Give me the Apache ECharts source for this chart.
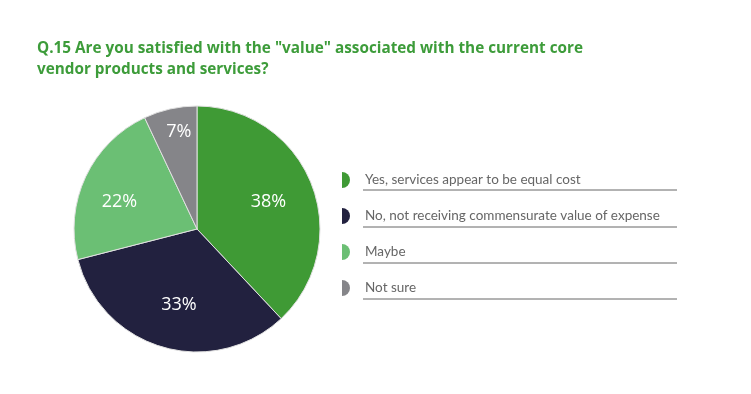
<!DOCTYPE html>
<html><head><meta charset="utf-8">
<script src="https://cdn.jsdelivr.net/npm/echarts@6/dist/echarts.min.js"></script>
<style>html,body{margin:0;padding:0;background:#fff}#c{width:751px;height:394px}</style>
</head><body><div id="c"></div>
<script>
const titleText = 'Q.15 Are you satisfied with the "value" associated with the current core\nvendor products and services?';
const categories = ['Yes, services appear to be equal cost','No, not receiving commensurate value of expense','Maybe','Not sure'];
const values = [38, 33, 22, 7];
const colors = ['#3f9a35', '#22213f', '#6bbf74', '#858589'];

const chart = echarts.init(document.getElementById('c'));
const half = 'path://M0,0 A10,10 0 0,1 0,20 Z';
const lineYs = [190, 227, 263, 299];
const labelOffsets = [[-2, 2], [4, 0], [-6, 7], [-1, -20]];
chart.setOption({
  animation: false,
  title: {
    text: titleText, left: 32, top: 33,
    textStyle: {color: '#3d9c3a', fontFamily: 'Open Sans', fontWeight: 'bold', fontSize: 15.3, lineHeight: 21}
  },
  legend: {
    orient: 'vertical', left: 337, top: 167, itemWidth: 8, itemHeight: 16, itemGap: 20,
    icon: half,
    itemStyle: {borderWidth: 0},
    data: categories,
    textStyle: {color: '#666', fontFamily: 'Lato', fontSize: 13.5, padding: [0,0,0,10]}
  },
  graphic: lineYs.map(y => ({type: 'line', shape: {x1: 363, y1: y, x2: 677, y2: y}, style: {stroke: '#666', lineWidth: 1}})),
  series: [{
    type: 'pie', center: [197, 229], radius: [0, 123], startAngle: 90, clockwise: true,
    data: categories.map((n, i) => ({name: n, value: values[i], itemStyle: {color: colors[i]}})),
    itemStyle: {borderColor: '#e0e0e0', borderWidth: 1},
    label: {show: false},
    labelLine: {show: false},
    emphasis: {disabled: true}
  }, {
    type: 'pie', center: [197, 229], radius: [28, 124], startAngle: 90, clockwise: true,
    silent: true, legendHoverLink: false,
    data: categories.map((n, i) => ({name: n + ' ', value: values[i], label: {offset: labelOffsets[i]}})),
    itemStyle: {color: 'rgba(0,0,0,0)', borderWidth: 0},
    label: {position: 'inside', formatter: '{c}%', color: '#fff', fontSize: 18, fontWeight: 500, fontFamily: 'Open Sans'},
    labelLine: {show: false},
    emphasis: {disabled: true}
  }]
});
</script></body></html>
